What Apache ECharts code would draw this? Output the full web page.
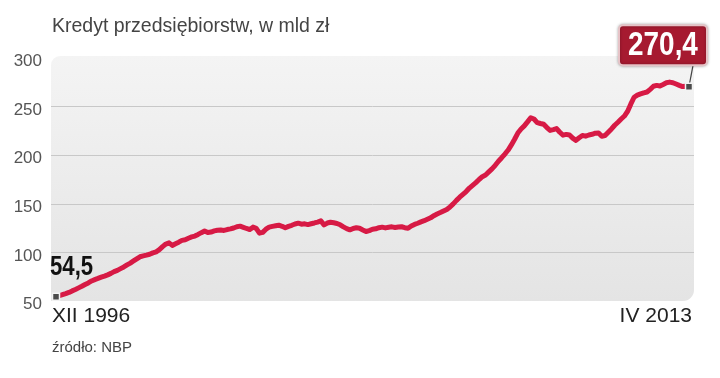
<!DOCTYPE html>
<html><head><meta charset="utf-8">
<script src="https://cdn.jsdelivr.net/npm/echarts@6/dist/echarts.min.js"></script>
<style>html,body{margin:0;padding:0;background:#fff}#c{width:720px;height:378px}</style>
</head><body><div id="c"></div>
<script>
const titleText = 'Kredyt przedsiębiorstw, w mld zł';
const startPeriod = 'XII 1996';
const endPeriod = 'IV 2013';
const sourceText = 'źródło: NBP';
const yTicks = [50, 100, 150, 200, 250, 300];
// monthly values, XII 1996 .. IV 2013 (mld zł)
const values = [
  54.5, 55.4, 56.5, 57.6, 58.8, 60.4, 61.8, 63.5, 65.2, 67.0, 68.6, 70.6, 72.0,
  73.2, 74.5, 75.6, 76.9, 78.4, 80.2, 81.5, 83.3, 85.0, 87.1, 89.0, 91.2,
  93.4, 95.5, 96.4, 97.2, 98.1, 99.5, 100.6, 102.8, 105.9, 108.6, 109.8, 107.2,
  108.9, 110.5, 112.4, 113.0, 114.6, 115.9, 116.8, 118.5, 120.3, 122.0, 120.4, 120.9,
  122.1, 122.8, 123.0, 122.6, 123.5, 124.2, 125.1, 126.4, 127.0, 125.8, 124.6, 123.5,
  126.0, 124.8, 119.8, 120.6, 123.9, 126.0, 126.8, 127.4, 128.0, 126.9, 125.3, 126.8,
  127.9, 129.2, 130.1, 129.0, 129.4, 128.6, 129.5, 130.3, 131.2, 132.4, 128.3, 130.2,
  131.0, 130.5, 129.8, 128.4, 126.3, 124.5, 123.2, 124.6, 125.3, 124.8, 123.1, 121.5,
  122.4, 123.8, 124.3, 125.4, 126.0, 125.2, 125.9, 126.3, 125.7, 126.1, 126.4, 125.4,
  124.9, 127.2, 128.8, 130.0, 131.4, 132.6, 134.1, 135.6, 137.8, 139.5, 141.0, 142.6,
  144.2, 146.8, 149.9, 153.5, 156.8, 159.7, 162.6, 166.2, 169.0, 171.8, 175.0, 177.9,
  179.6, 182.8, 185.9, 189.6, 193.8, 197.4, 201.2, 205.3, 210.6, 216.4, 222.8, 227.0,
  230.2, 234.3, 238.6, 237.2, 233.5, 232.6, 231.8, 228.4, 225.5, 226.3, 227.4, 223.6,
  220.6, 221.4, 220.8, 217.6, 215.3, 217.9, 220.3, 219.6, 220.8, 221.5, 222.6, 222.9,
  219.5, 220.2, 223.6, 227.0, 230.8, 233.9, 237.2, 240.3, 245.2, 252.8, 259.6, 261.8,
  263.0, 264.1, 265.0, 267.8, 270.9, 271.8, 271.2, 272.8, 274.5, 275.2, 274.6, 273.2,
  271.8, 270.6, 270.9, 270.4
];

const lineData = values.map((v, i) => [i, v]);
const last = values.length - 1;
const fmt = v => String(v).replace('.', ',');
const sans = "'Liberation Sans', Arial, sans-serif";
const NARROW = 0.82;

const chart = echarts.init(document.getElementById('c'), null, {renderer: 'canvas'});
const baseGraphic = [
  {id: 'bg', type: 'rect', z: -10, shape: {x: 51, y: 56, width: 643, height: 245, r: [9, 0, 11, 0]},
   style: {fill: new echarts.graphic.LinearGradient(0, 0, 0, 1, [{offset: 0, color: '#f4f4f4'}, {offset: 1, color: '#e4e4e4'}])}},
  {id: 't', type: 'text', style: {text: titleText, x: 52, y: 27, fill: '#444', font: '19.5px ' + sans, textAlign: 'left', textVerticalAlign: 'middle'}},
  {id: 's', type: 'text', style: {text: startPeriod, x: 52, y: 316, fill: '#222', font: '21px ' + sans, textAlign: 'left', textVerticalAlign: 'middle'}},
  {id: 'e', type: 'text', style: {text: endPeriod, x: 692, y: 316, fill: '#222', font: '21px ' + sans, textAlign: 'right', textVerticalAlign: 'middle'}},
  {id: 'src', type: 'text', style: {text: sourceText, x: 52, y: 348, fill: '#444', font: '15px ' + sans, textAlign: 'left', textVerticalAlign: 'middle'}}
];
chart.setOption({
  animation: false,
  backgroundColor: '#fff',
  grid: {left: 51, right: 26, top: 58, bottom: 77},
  xAxis: {type: 'value', min: -1.55, max: last + 1.55, show: false},
  yAxis: {
    type: 'value', min: yTicks[0], max: yTicks[yTicks.length - 1], interval: 50,
    axisLine: {show: false}, axisTick: {show: false},
    axisLabel: {color: '#555', fontSize: 17, fontFamily: sans, margin: 9, verticalAlign: 'top', lineHeight: 7},
    splitLine: {show: true, showMinLine: false, showMaxLine: false, lineStyle: {color: '#c8c8c8', width: 1}}
  },
  graphic: baseGraphic,
  series: [
    {
      type: 'line', data: lineData, symbol: 'none', z: 3,
      lineStyle: {color: '#d71a45', width: 5, join: 'round', cap: 'round'}
    },
    {
      type: 'scatter', z: 6, symbol: 'rect', symbolSize: 7,
      itemStyle: {color: '#4a4a4a', borderColor: '#f2f2f2', borderWidth: 1.5, opacity: 1},
      data: [[0, values[0]], [last, values[last]]]
    }
  ]
});

// value labels anchored to the data points via the chart's own scales
const p0 = chart.convertToPixel({seriesIndex: 0}, [0, values[0]]);
const p1 = chart.convertToPixel({seriesIndex: 0}, [last, values[last]]);
chart.setOption({graphic: [
  {id: 'l0', type: 'text', z: 7, x: p0[0] - 6, y: p0[1] - 29, scaleX: NARROW,
   style: {text: fmt(values[0]), x: 0, y: 0, fill: '#111', font: 'bold 27px ' + sans, textAlign: 'left', textVerticalAlign: 'middle'}},
  {id: 'ln', type: 'line', z: 4, shape: {x1: p1[0] + 4, y1: p1[1] - 21.5, x2: p1[0] + 0.5, y2: p1[1] - 3}, style: {stroke: '#444', lineWidth: 1.2}},
  {id: 'box', type: 'rect', z: 7, shape: {x: p1[0] - 70, y: p1[1] - 61.5, width: 88, height: 40, r: 4},
   style: {fill: '#a61a30', stroke: '#e6c3c7', lineWidth: 2, shadowColor: 'rgba(0,0,0,0.3)', shadowBlur: 3}},
  {id: 'l1', type: 'text', z: 8, x: p1[0] - 26, y: p1[1] - 41.5, scaleX: NARROW,
   style: {text: fmt(values[last]), x: 0, y: 0, fill: '#fff', font: 'bold 34px ' + sans, textAlign: 'center', textVerticalAlign: 'middle'}}
]});
</script></body></html>
